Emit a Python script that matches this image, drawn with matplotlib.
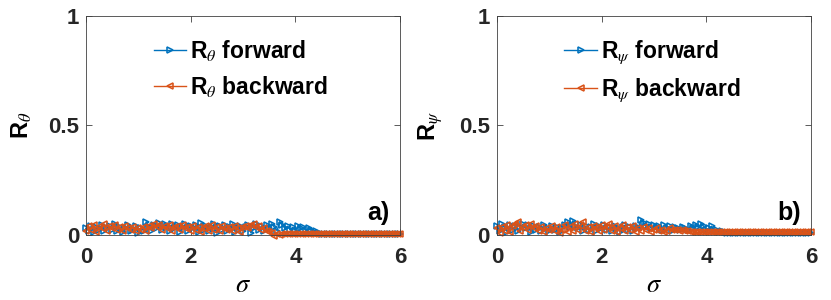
import numpy as np
import matplotlib
matplotlib.use("Agg")
import matplotlib.pyplot as plt

plt.rcParams['font.family'] = ['Liberation Sans', 'DejaVu Sans']
plt.rcParams['mathtext.fontset'] = 'stix'

sigma = np.linspace(0, 6, 121)

r_theta_forward = [
    0.030, 0.020, 0.040, 0.015, 0.035, 0.025, 0.045, 0.020, 0.030, 0.040,
    0.025, 0.050, 0.020, 0.035, 0.015, 0.030, 0.045, 0.020, 0.025, 0.040,
    0.010, 0.030, 0.020, 0.060, 0.035, 0.020, 0.045, 0.030, 0.055, 0.025,
    0.050, 0.040, 0.020, 0.050, 0.030, 0.045, 0.015, 0.035, 0.050, 0.020,
    0.040, 0.030, 0.045, 0.015, 0.055, 0.025, 0.040, 0.020, 0.035, 0.050,
    0.010, 0.040, 0.025, 0.045, 0.020, 0.035, 0.050, 0.015, 0.030, 0.040,
    0.020, 0.035, 0.045, 0.010, 0.030, 0.050, 0.025, 0.040, 0.020, 0.045,
    0.030, 0.050, 0.035, 0.020, 0.060, 0.045, 0.030, 0.040, 0.025, 0.035,
    0.020, 0.040, 0.030, 0.035, 0.020, 0.030, 0.025, 0.015, 0.020, 0.010,
    0.005, 0.003, 0.003, 0.003, 0.003, 0.003, 0.003, 0.003, 0.003, 0.003,
    0.003, 0.003, 0.003, 0.003, 0.003, 0.003, 0.003, 0.003, 0.003, 0.003,
    0.003, 0.003, 0.003, 0.003, 0.003, 0.003, 0.003, 0.003, 0.003, 0.003,
    0.003,
]

r_theta_backward = [
    0.020, 0.040, 0.025, 0.045, 0.015, 0.035, 0.030, 0.050, 0.020, 0.040,
    0.030, 0.045, 0.025, 0.035, 0.020, 0.040, 0.030, 0.025, 0.035, 0.020,
    0.030, 0.025, 0.035, 0.020, 0.040, 0.030, 0.050, 0.035, 0.045, 0.025,
    0.040, 0.030, 0.045, 0.020, 0.035, 0.040, 0.025, 0.045, 0.030, 0.035,
    0.020, 0.040, 0.025, 0.035, 0.015, 0.030, 0.040, 0.020, 0.045, 0.025,
    0.035, 0.020, 0.040, 0.030, 0.025, 0.035, 0.020, 0.040, 0.030, 0.015,
    0.035, 0.040, 0.030, 0.045, 0.050, 0.035, 0.040, 0.025, 0.030, 0.020,
    0.015, 0.010, -0.005, 0.005, 0.000, 0.003, 0.003, 0.003, 0.003, 0.003,
    0.003, 0.003, 0.003, 0.003, 0.003, 0.003, 0.003, 0.003, 0.003, 0.003,
    0.003, 0.003, 0.003, 0.003, 0.003, 0.003, 0.003, 0.003, 0.003, 0.003,
    0.003, 0.003, 0.003, 0.003, 0.003, 0.003, 0.003, 0.003, 0.003, 0.003,
    0.003, 0.003, 0.003, 0.003, 0.003, 0.003, 0.003, 0.003, 0.003, 0.003,
    0.003,
]

r_psi_forward = [
    0.040, 0.020, 0.050, 0.030, 0.015, 0.045, 0.025, 0.040, 0.020, 0.035,
    0.050, 0.030, 0.045, 0.015, 0.040, 0.025, 0.035, 0.020, 0.045, 0.030,
    0.020, 0.040, 0.025, 0.035, 0.015, 0.030, 0.045, 0.060, 0.035, 0.065,
    0.040, 0.030, 0.045, 0.020, 0.040, 0.025, 0.035, 0.050, 0.020, 0.040,
    0.030, 0.045, 0.025, 0.035, 0.020, 0.040, 0.030, 0.015, 0.035, 0.045,
    0.025, 0.035, 0.020, 0.040, 0.030, 0.070, 0.055, 0.040, 0.050, 0.030,
    0.045, 0.035, 0.040, 0.025, 0.045, 0.030, 0.040, 0.020, 0.035, 0.030,
    0.025, 0.035, 0.030, 0.025, 0.040, 0.030, 0.045, 0.035, 0.050, 0.040,
    0.025, 0.030, 0.040, 0.020, 0.025, 0.015, 0.020, 0.012, 0.010, 0.010,
    0.010, 0.010, 0.010, 0.010, 0.010, 0.010, 0.010, 0.010, 0.010, 0.010,
    0.010, 0.010, 0.010, 0.010, 0.010, 0.010, 0.010, 0.010, 0.010, 0.010,
    0.010, 0.010, 0.010, 0.010, 0.010, 0.010, 0.010, 0.010, 0.010, 0.010,
    0.010,
]

r_psi_backward = [
    0.030, 0.010, 0.035, 0.020, 0.045, 0.015, 0.040, 0.050, 0.060, 0.020,
    0.035, 0.045, 0.025, 0.050, 0.030, 0.040, 0.020, 0.035, 0.015, 0.030,
    0.025, 0.040, 0.020, 0.035, 0.010, 0.025, 0.045, 0.015, 0.035, 0.020,
    0.050, 0.025, 0.040, 0.060, 0.020, 0.035, 0.015, 0.040, 0.030, 0.020,
    0.045, 0.025, 0.035, 0.050, 0.020, 0.040, 0.015, 0.030, 0.045, 0.020,
    0.035, 0.025, 0.040, 0.015, 0.030, 0.020, 0.035, 0.025, 0.030, 0.015,
    0.025, 0.030, 0.020, 0.025, 0.015, 0.020, 0.030, 0.025, 0.022, 0.025,
    0.020, 0.022, 0.020, 0.018, 0.015, 0.014, 0.012, 0.012, 0.012, 0.012,
    0.012, 0.012, 0.012, 0.012, 0.012, 0.012, 0.012, 0.012, 0.012, 0.012,
    0.012, 0.012, 0.012, 0.012, 0.012, 0.012, 0.012, 0.012, 0.012, 0.012,
    0.012, 0.012, 0.012, 0.012, 0.012, 0.012, 0.012, 0.012, 0.012, 0.012,
    0.012, 0.012, 0.012, 0.012, 0.012, 0.012, 0.012, 0.012, 0.012, 0.012,
    0.012,
]

x_ticks = [0, 2, 4, 6]
y_ticks = [0, 0.5, 1]
y_tick_labels = ['0', '0.5', '1']

BLUE = '#0072BD'
ORANGE = '#D95319'

fig = plt.figure(figsize=(8.31, 3.0), dpi=100)
ax1 = fig.add_axes([0.1035, 0.2167, 0.378, 0.73])
ax2 = fig.add_axes([0.598, 0.2167, 0.378, 0.73])

panels = [
    (ax1, r_theta_forward, r_theta_backward, r'\theta', 'a)'),
    (ax2, r_psi_forward, r_psi_backward, r'\psi', 'b)'),
]

for ax, fwd, bwd, sym, tag in panels:
    ax.plot(sigma, fwd, color=BLUE, marker='>', markerfacecolor='none',
            markersize=5, linewidth=1.0, markeredgewidth=1.15,
            clip_on=False, label='R$_{' + sym + '}$ forward')
    ax.plot(sigma, bwd, color=ORANGE, marker='<', markerfacecolor='none',
            markersize=5, linewidth=1.0, markeredgewidth=1.15,
            clip_on=False, label='R$_{' + sym + '}$ backward')
    ax.set_xlim(0, 6)
    ax.set_ylim(0, 1)
    ax.set_xticks(x_ticks)
    ax.set_yticks(y_ticks)
    ax.set_yticklabels(y_tick_labels)
    ax.tick_params(direction='in', top=True, right=True, length=4,
                   width=0.6, color='#404040', labelsize=16)
    ax.tick_params(axis='x', pad=9)
    ax.tick_params(axis='y', pad=5)
    for lab in ax.get_xticklabels() + ax.get_yticklabels():
        lab.set_fontweight('bold')
        lab.set_color('#262626')
    for sp in ax.spines.values():
        sp.set_color('#404040')
        sp.set_linewidth(0.6)
    ax.set_xlabel(r'$\sigma$', fontsize=19, labelpad=3)
    ax.set_ylabel('R$_{' + sym + '}$', fontsize=17, fontweight='bold',
                  labelpad=10)
    leg = ax.legend(loc='upper left', bbox_to_anchor=(0.215, 0.898),
                    frameon=False, fontsize=16.5, handlelength=1.4,
                    handletextpad=0.2, labelspacing=0.45, borderaxespad=0,
                    borderpad=0)
    for t in leg.get_texts():
        t.set_fontweight('bold')
    ax.text(0.93, 0.10, tag, transform=ax.transAxes, fontsize=18,
            fontweight='bold', ha='center', va='center')

fig.savefig('out.png', dpi=100)
